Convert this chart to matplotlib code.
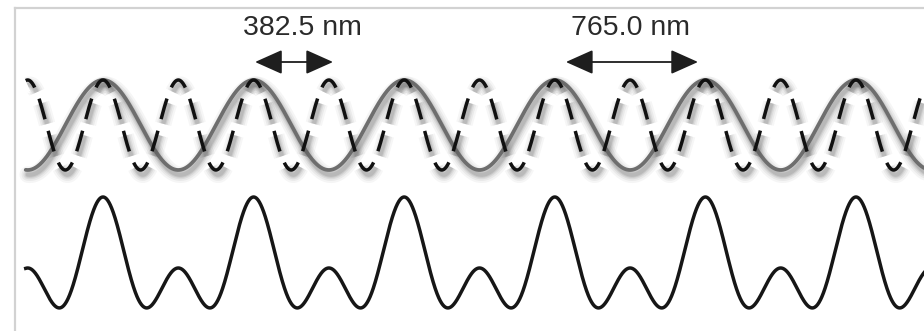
import numpy as np
import matplotlib
matplotlib.use("Agg")
import matplotlib.pyplot as plt
import matplotlib.patheffects as pe

# ---- data (nm) ----
wavelengths_nm = [765.0, 382.5]          # long (grey) and short (dashed) waves
wave_labels = ["765.0 nm", "382.5 nm"]
x_start_nm, x_end_nm = -10.0, 4700.0     # extent of the traces
# arrow spans and label centres (nm)
arrow_short = [1155.0, 1551.0]
arrow_long = [2734.0, 3405.0]
label_x = [3062.0, 1396.0]

# ---- layout constants (axis units) ----
TOP_CENTER, TOP_AMP = 206.0, 45.0
BOT_BASE, BOT_SCALE = 63.0, 35.5
LABEL_Y, ARROW_Y = 303.0, 269.0

x = np.linspace(x_start_nm, x_end_nm, 6000)
long_wave = -np.cos(2 * np.pi * x / wavelengths_nm[0])
short_wave = np.cos(2 * np.pi * x / wavelengths_nm[1])
summed = long_wave + short_wave

fig = plt.figure(figsize=(9.24, 3.31), dpi=100)
ax = fig.add_axes([15 / 924, 0, 1 - 15 / 924, (331 - 8) / 331])
ax.set_xlim(-64.5, 4553)
ax.set_ylim(0, 323)
ax.set_xticks([])
ax.set_yticks([])
for s in ["right", "bottom"]:
    ax.spines[s].set_visible(False)
for s in ["left", "top"]:
    ax.spines[s].set_color("#d2d2d2")
    ax.spines[s].set_linewidth(1.6)

def blur_shadow(color="#7a7a7a", k=1.0):
    effs = []
    for lw, a in [(12, 0.05), (9, 0.07), (6.5, 0.09), (4.5, 0.12), (3, 0.14)]:
        effs.append(pe.SimpleLineShadow(offset=(1.5, -3.4), shadow_color=color,
                                        alpha=a * k, linewidth=lw))
    effs.append(pe.Normal())
    return effs

# dash pattern aligned so that a dash sits on every crest and trough
short_y = TOP_CENTER + TOP_AMP * short_wave
disp = ax.transData.transform(np.column_stack([x, short_y]))
seg = np.hypot(np.diff(disp[:, 0]), np.diff(disp[:, 1]))
arc = np.concatenate([[0], np.cumsum(seg)])
peak1 = np.argmin(np.abs(x - wavelengths_nm[1]))
peak2 = np.argmin(np.abs(x - 2 * wavelengths_nm[1]))
period_px = arc[peak2] - arc[peak1]
DASH_LW = 2.5
cycle_pt = period_px / 6 * 72 / 100
on_pt, off_pt = 0.64 * cycle_pt, 0.36 * cycle_pt
s0_pt = arc[peak1] * 72 / 100
offset_pt = (on_pt / 2 - s0_pt) % cycle_pt
dash_style = (offset_pt / DASH_LW, (on_pt / DASH_LW, off_pt / DASH_LW))

ax.plot(x, TOP_CENTER + TOP_AMP * long_wave, color="#6e6e6e", lw=2.7,
        solid_capstyle="round", path_effects=blur_shadow("#6a6a6a", 1.25), zorder=2)
ax.plot(x, short_y, color="#111111", lw=DASH_LW, linestyle=dash_style,
        dash_capstyle="butt", path_effects=blur_shadow("#606060", 1.1), zorder=3)
ax.plot(x, BOT_BASE + BOT_SCALE * summed, color="#161616", lw=2.5, zorder=3)

for (x0, x1), lx, lab in [(arrow_short, label_x[1], wave_labels[1]),
                          (arrow_long, label_x[0], wave_labels[0])]:
    ax.annotate("", xy=(x1, ARROW_Y), xytext=(x0, ARROW_Y),
                arrowprops=dict(arrowstyle="<|-|>,head_length=0.85,head_width=0.38",
                                mutation_scale=20, lw=1.3, color="#1e1e1e",
                                shrinkA=0, shrinkB=0))
    ax.text(lx, LABEL_Y, lab, ha="center", va="center",
            fontsize=20.5, color="#2a2a2a", family=["Liberation Sans", "DejaVu Sans"])

fig.savefig("out.png", dpi=100)
